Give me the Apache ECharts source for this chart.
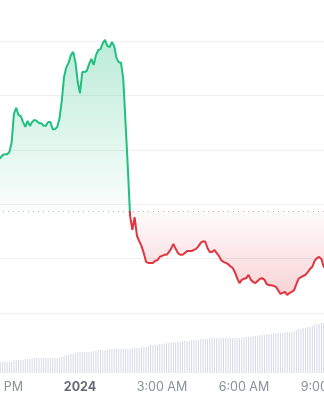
<!DOCTYPE html>
<html>
<head>
<meta charset="utf-8">
<style>
html,body{margin:0;padding:0;background:#fff;}
#chart{width:324px;height:400px;}
</style>
<script src="https://cdn.jsdelivr.net/npm/echarts@6/dist/echarts.min.js"></script>
</head>
<body>
<div id="chart"></div>
<script>
// Time in hours relative to midnight (0 = 1 Jan 2024 00:00), 5-minute steps
const startHour = -3;
const stepHours = 5 / 60;
const tickHours = [-3, 0, 3, 6, 9];
const tickLabels = ['9:00 PM', '2024', '3:00 AM', '6:00 AM', '9:00 AM'];
const baseline = 118.75;

const prices = [
  128.1,128.5,129.0,129.2,129.2,129.6,131.4,136.6,137.7,136.4,
  136.2,135.1,134.2,135.3,134.4,135.1,135.5,135.3,134.9,134.9,
  134.4,134.4,135.1,135.1,133.8,133.8,134.2,135.8,139.0,143.4,
  145.2,146.0,147.4,148.0,146.1,142.5,140.4,144.3,144.3,144.5,
  145.8,146.7,145.6,147.4,148.3,148.5,149.6,150.2,149.1,148.9,
  149.8,149.1,146.9,146.1,146.0,143.0,134.9,126.7,117.8,115.3,
  117.6,114.2,113.2,112.3,111.0,109.4,109.2,109.2,109.2,109.6,
  109.7,110.3,110.5,110.7,110.7,111.2,111.8,112.7,111.8,111.0,
  110.7,110.7,111.0,111.4,111.4,111.4,111.6,111.8,112.3,112.9,
  113.2,113.1,111.9,111.2,111.2,111.6,111.0,110.5,109.7,109.4,
  109.2,109.0,108.6,108.3,107.5,106.4,105.5,106.1,106.3,106.4,
  107.0,106.1,105.7,105.5,105.9,106.3,106.4,106.1,105.3,105.1,
  105.1,105.0,104.8,104.2,103.5,103.7,103.9,103.3,103.7,103.9,
  104.2,105.3,106.3,106.6,106.8,107.0,107.5,108.1,108.5,109.6,
  110.1,110.3,109.9,108.5,108.3
];

const volumes = [
  11,11,11,11,11,11,11,13,13,13,
  13,13,14,14,14,14,15,15,15,15,
  15,15,15,15,15,15,15,15,16,17,
  17,18,19,19,20,21,21,21,21,21,
  21,21,22,22,23,23,23,23,23,24,
  24,24,24,24,24,24,24,24,24,25,
  25,25,25,26,26,26,27,28,28,28,
  28,29,29,29,30,30,30,31,31,31,
  31,32,32,32,32,33,33,33,33,34,
  34,34,34,35,35,35,35,35,35,35,
  35,35,35,35,35,35,35,35,36,36,
  36,36,37,37,37,38,38,38,39,39,
  39,40,40,40,40,40,41,41,41,41,
  42,43,44,44,45,45,46,46,47,48,
  49,49,50,50,50
];

const GREEN = '#20bf80';
const RED = '#e0353f';

const W = 324, H = 400;
const priceGrid = {left: -2, right: -2, top: -13.4, bottom: 87, outerBoundsMode: 'none', containLabel: false};
const volGrid = {left: -2, right: -2, top: 313, bottom: 27, outerBoundsMode: 'none', containLabel: false};
const pMin = 100, pMax = 160;

// pixel position of a price on the price axis (derived from the grid layout above)
const pHeight = H - priceGrid.bottom - priceGrid.top;
function priceToY(v) { return priceGrid.top + (pMax - v) / (pMax - pMin) * pHeight; }
const yTop = priceToY(150), yBase = priceToY(baseline), yLow = priceToY(103);
const fBase = (yBase - yTop) / (yLow - yTop);

const lineGrad = new echarts.graphic.LinearGradient(0, yTop, 0, yLow, [
  {offset: 0, color: GREEN}, {offset: fBase, color: GREEN},
  {offset: fBase, color: RED}, {offset: 1, color: RED}
], true);
const areaGrad = new echarts.graphic.LinearGradient(0, yTop, 0, yLow, [
  {offset: 0, color: 'rgba(32,191,128,0.30)'},
  {offset: fBase, color: 'rgba(32,191,128,0.02)'},
  {offset: fBase, color: 'rgba(224,53,63,0.02)'},
  {offset: 1, color: 'rgba(224,53,63,0.22)'}
], true);

const priceData = prices.map((v, i) => [startHour + i * stepHours, v]);
const volData = volumes.map((v, i) => [startHour + i * stepHours, v]);

const chart = echarts.init(document.getElementById('chart'), null, {renderer: 'canvas'});

function labelFor(v) {
  const idx = tickHours.indexOf(Math.round(v));
  if (idx < 0) return '';
  return tickHours[idx] === 0 ? '{b|' + tickLabels[idx] + '}' : tickLabels[idx];
}

const option = {
  animation: false,
  backgroundColor: '#ffffff',
  grid: [priceGrid, volGrid],
  xAxis: [
    {
      type: 'value', gridIndex: 0, min: -3, max: 9, interval: 3,
      axisLine: {show: false}, axisTick: {show: false},
      axisLabel: {show: false}, splitLine: {show: false}
    },
    {
      type: 'value', gridIndex: 1, min: -3, max: 9, interval: 3,
      axisLine: {show: false}, axisTick: {show: false},
      splitLine: {show: false},
      axisLabel: {
        show: true, margin: 8, fontSize: 12.5,
        fontFamily: 'Inter, "Noto Sans", sans-serif',
        color: '#8a9099',
        showMinLabel: true, showMaxLabel: true,
        alignMinLabel: 'center', alignMaxLabel: 'center',
        hideOverlap: false,
        formatter: labelFor,
        rich: {b: {fontWeight: 'bold', color: '#646b75', fontSize: 12.5, fontFamily: 'Inter, "Noto Sans", sans-serif'}}
      }
    }
  ],
  yAxis: [
    {
      type: 'value', gridIndex: 0, min: pMin, max: pMax, interval: 10,
      axisLine: {show: false}, axisTick: {show: false}, axisLabel: {show: false},
      splitLine: {show: true, lineStyle: {color: '#efefef', width: 1}}
    },
    {
      type: 'value', gridIndex: 1, min: 0, max: 60,
      axisLine: {show: false}, axisTick: {show: false}, axisLabel: {show: false},
      splitLine: {show: false}
    }
  ],
  series: [
    {
      type: 'line', xAxisIndex: 0, yAxisIndex: 0,
      data: priceData, symbol: 'none', smooth: false,
      lineStyle: {width: 2, color: lineGrad},
      itemStyle: {color: GREEN},
      areaStyle: {origin: baseline, opacity: 1, color: areaGrad},
      markLine: {
        silent: true, symbol: 'none', label: {show: false},
        lineStyle: {color: '#b4b8bf', type: [1, 4], width: 1},
        data: [{yAxis: baseline}]
      }
    },
    {
      type: 'bar', xAxisIndex: 1, yAxisIndex: 1,
      data: volData, barWidth: 1,
      itemStyle: {color: '#d6d9e6'}
    }
  ]
};

chart.setOption(option);
</script>
</body>
</html>
